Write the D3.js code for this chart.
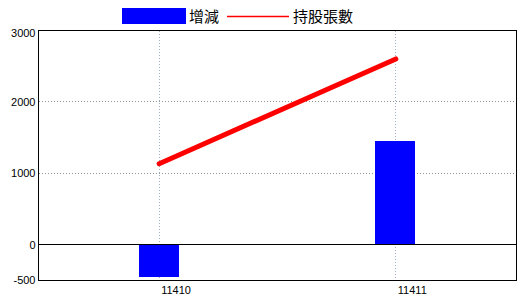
<!DOCTYPE html>
<html>
<head>
<meta charset="utf-8">
<script src="https://cdn.jsdelivr.net/npm/d3@7"></script>
<style>
  html, body { margin: 0; padding: 0; background: #fff; }
  svg { display: block; }
</style>
</head>
<body>
<div id="chart"></div>
<script>
// Data
const categories = ['11410', '11411'];
const changeValues = [-455, 1460];      // 增減 (bars)
const holdingValues = [1135, 2602];     // 持股張數 (line)
const yTicks = [-500, 0, 1000, 2000, 3000];
const seriesNames = ['增減', '持股張數'];

const W = 520, H = 300;
const margin = { top: 30.5, right: 3.5, bottom: 19.5, left: 38.5 };
const width = W - margin.left - margin.right;
const height = H - margin.top - margin.bottom;

const svg = d3.select('#chart')
    .append('svg')
    .attr('width', W)
    .attr('height', H);

const g = svg.append('g')
    .attr('transform', `translate(${margin.left},${margin.top})`);

// Scales
const x = d3.scalePoint()
    .domain(categories)
    .range([0, width])
    .padding(0.51);

const y = d3.scaleLinear()
    .domain([-500, 3000])
    .range([height, 0]);

const barW = 40;

// Horizontal grid (dotted)
g.append('g')
    .selectAll('line')
    .data(yTicks.filter(d => d !== 0 && d !== -500 && d !== 3000))
    .join('line')
    .attr('x1', 0).attr('x2', width)
    .attr('y1', d => Math.round(y(d)))
    .attr('y2', d => Math.round(y(d)))
    .attr('stroke', '#909090')
    .attr('stroke-dasharray', '1,2')
    .attr('shape-rendering', 'crispEdges');

// Vertical grid (dotted)
g.append('g')
    .selectAll('line')
    .data(categories)
    .join('line')
    .attr('x1', d => Math.round(x(d)))
    .attr('x2', d => Math.round(x(d)))
    .attr('y1', 0).attr('y2', height)
    .attr('stroke', '#a0b0c0')
    .attr('stroke-dasharray', '1,2')
    .attr('shape-rendering', 'crispEdges');

// Bars
g.append('g')
    .selectAll('rect')
    .data(categories.map((c, i) => ({ c, v: changeValues[i] })))
    .join('rect')
    .attr('x', d => Math.round(x(d.c)) - barW / 2 - 0.5)
    .attr('width', barW)
    .attr('y', d => y(Math.max(0, d.v)))
    .attr('height', d => Math.abs(y(d.v) - y(0)))
    .attr('fill', '#0000ff')
    .attr('shape-rendering', 'crispEdges');

// Zero line
g.append('line')
    .attr('x1', 0).attr('x2', width)
    .attr('y1', Math.round(y(0)))
    .attr('y2', Math.round(y(0)))
    .attr('stroke', '#000')
    .attr('shape-rendering', 'crispEdges');

// Line series
const line = d3.line()
    .x((d, i) => x(categories[i]))
    .y(d => y(d));

g.append('path')
    .datum(holdingValues)
    .attr('d', line)
    .attr('fill', 'none')
    .attr('stroke', '#ff0000')
    .attr('stroke-width', 5)
    .attr('stroke-linecap', 'round');

// Frame
g.append('rect')
    .attr('x', 0).attr('y', 0)
    .attr('width', width).attr('height', height)
    .attr('fill', 'none')
    .attr('stroke', '#000')
    .attr('shape-rendering', 'crispEdges');

// Y labels
g.append('g')
    .selectAll('text')
    .data(yTicks)
    .join('text')
    .attr('x', -3)
    .attr('y', d => Math.max(y(d), 3))
    .attr('dy', '0.35em')
    .attr('text-anchor', 'end')
    .style('font-family', '"Liberation Sans", Arial, sans-serif')
    .style('font-size', '11px')
    .attr('fill', '#000')
    .text(d => d);

// X labels
g.append('g')
    .selectAll('text')
    .data(categories)
    .join('text')
    .attr('x', d => x(d) + 2)
    .attr('y', height + 13)
    .style('font-family', '"Liberation Sans", Arial, sans-serif')
    .style('font-size', '11px')
    .attr('fill', '#000')
    .text(d => d);

// Legend
const legend = svg.append('g');
legend.append('rect')
    .attr('x', 122).attr('y', 8)
    .attr('width', 64).attr('height', 16)
    .attr('fill', '#0000ff');
legend.append('text')
    .attr('x', 189).attr('y', 22)
    .style('font-family', '"Noto Sans CJK TC", sans-serif')
    .style('font-size', '15px')
    .text(seriesNames[0]);
legend.append('line')
    .attr('x1', 227).attr('x2', 289)
    .attr('y1', 16.5).attr('y2', 16.5)
    .attr('stroke', '#ff0000')
    .attr('stroke-width', 1.5);
legend.append('text')
    .attr('x', 293).attr('y', 22)
    .style('font-family', '"Noto Sans CJK TC", sans-serif')
    .style('font-size', '15px')
    .text(seriesNames[1]);
</script>
</body>
</html>
